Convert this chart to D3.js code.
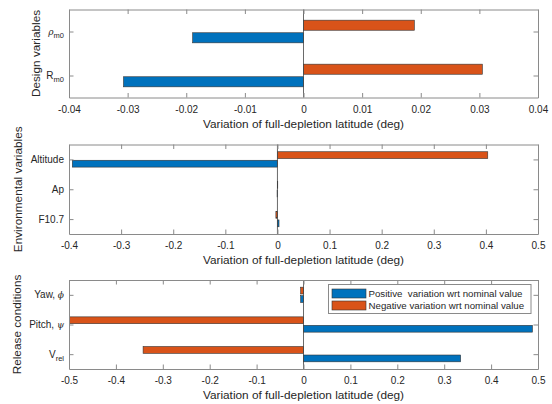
<!DOCTYPE html>
<html>
<head>
<script src="https://d3js.org/d3.v7.min.js"></script>
<style>
body { margin: 0; background: #fff; }
svg { display: block; font-family: "Liberation Sans", Arial, sans-serif; }
</style>
</head>
<body>
<div id="root"></div>
<script>
// categories listed top to bottom; "_" starts a subscript
let design_labels = ['ρ_m0', 'R_m0'];
let design_pos = [-0.0189, -0.0307];
let design_neg = [0.0189, 0.0305];
let design_ticks = [-0.04, -0.03, -0.02, -0.01, 0, 0.01, 0.02, 0.03, 0.04];

let env_labels = ['Altitude', 'Ap', 'F10.7'];
let env_pos = [-0.3936, -0.0006, 0.003];
let env_neg = [0.4036, 0.0006, -0.003];
let env_ticks = [-0.4, -0.3, -0.2, -0.1, 0, 0.1, 0.2, 0.3, 0.4, 0.5];

let rel_labels = ['Yaw, ϕ', 'Pitch, ψ', 'V_rel'];
let rel_pos = [-0.006, 0.488, 0.335];
let rel_neg = [-0.006, -0.5, -0.342];
let rel_ticks = [-0.5, -0.4, -0.3, -0.2, -0.1, 0, 0.1, 0.2, 0.3, 0.4, 0.5];

let legend_labels = ['Positive  variation wrt nominal value', 'Negative variation wrt nominal value'];

let blue = '#0072bd';
let orange = '#d95319';
let box_color = '#8a8a8a';
let text_color = '#262626';

let width = 552, height = 404;
let left = 69, right = 538;

let svg = d3.select('#root').append('svg')
    .attr('width', width)
    .attr('height', height);

let write_label = (text, s) => {
    let [main, sub] = s.split('_');
    main.split(/([α-ωϕ])/).filter(t => t.length).forEach(t => {
        let span = text.append('tspan').text(t);
        if (/[α-ωϕ]/.test(t)) span.attr('font-style', 'italic').attr('font-family', 'DejaVu Serif').attr('font-size', 9);
    });
    if (sub) text.append('tspan').attr('dy', 3).attr('font-size', 7.5).text(sub);
};

let render_panel = (p, i) => {
    let x = d3.scaleLinear().domain([p.ticks[0], p.ticks[p.ticks.length - 1]]).range([left, right]);
    let y = d3.scaleLinear().domain([-0.5, p.labels.length - 0.5]).range([p.top, p.bottom]);
    let g = svg.append('g');

    g.append('defs').append('clipPath').attr('id', `clip-${i}`)
        .append('rect').attr('x', left).attr('y', p.top)
        .attr('width', right - left).attr('height', p.bottom - p.top);

    let slot = 0.143, bw = 0.229;
    let series = [
        { values: p.neg, color: orange, offset: -slot },
        { values: p.pos, color: blue, offset: slot }
    ];
    let bars = g.append('g').attr('clip-path', `url(#clip-${i})`);
    series.forEach(s => {
        bars.append('g')
            .selectAll('rect')
            .data(s.values)
            .join('rect')
            .attr('x', d => x(Math.min(0, d)))
            .attr('width', d => Math.abs(x(d) - x(0)))
            .attr('y', (d, k) => y(k + s.offset - bw / 2))
            .attr('height', y(bw) - y(0))
            .attr('fill', s.color)
            .attr('stroke', '#333')
            .attr('stroke-width', 0.6);
    });

    // bar baseline
    g.append('line')
        .attr('x1', x(0)).attr('x2', x(0))
        .attr('y1', p.top).attr('y2', p.bottom)
        .attr('stroke', '#444').attr('stroke-width', 0.8);

    let fmt = d => String(d);
    let tick_len = 4.5;
    let ax_bottom = g.append('g')
        .attr('transform', `translate(0, ${p.bottom})`)
        .call(d3.axisBottom(x).tickValues(p.ticks).tickFormat(fmt).tickSize(-tick_len).tickSizeOuter(0).tickPadding(8));
    let ax_top = g.append('g')
        .attr('transform', `translate(0, ${p.top})`)
        .call(d3.axisTop(x).tickValues(p.ticks).tickFormat('').tickSize(-tick_len).tickSizeOuter(0));
    let ax_left = g.append('g')
        .attr('transform', `translate(${left}, 0)`)
        .call(d3.axisLeft(y).tickValues(d3.range(p.labels.length)).tickFormat('').tickSize(-tick_len).tickSizeOuter(0));
    let ax_right = g.append('g')
        .attr('transform', `translate(${right}, 0)`)
        .call(d3.axisRight(y).tickValues(d3.range(p.labels.length)).tickFormat('').tickSize(-tick_len).tickSizeOuter(0));
    [ax_bottom, ax_top, ax_left, ax_right].forEach(a => {
        a.selectAll('path, line').attr('stroke', box_color);
        a.selectAll('text').attr('fill', text_color).attr('font-size', 10).attr('font-family', null);
    });

    // category labels
    g.append('g').selectAll('text')
        .data(p.labels)
        .join('text')
        .attr('x', left - 5)
        .attr('y', (d, k) => y(k))
        .attr('dy', '0.35em')
        .attr('text-anchor', 'end')
        .attr('font-size', 10)
        .attr('fill', text_color)
        .each(function (d) { write_label(d3.select(this), d); });

    g.append('text')
        .attr('x', (left + right) / 2)
        .attr('y', p.bottom + 30)
        .attr('text-anchor', 'middle')
        .attr('font-size', 11.8)
        .attr('fill', text_color)
        .text('Variation of full-depletion latitude (deg)');

    g.append('text')
        .attr('transform', `translate(${p.title_x}, ${(p.top + p.bottom) / 2}) rotate(-90)`)
        .attr('text-anchor', 'middle')
        .attr('font-size', 11.8)
        .attr('fill', text_color)
        .text(p.title);
};

let panels = [
    { title: 'Design variables', labels: design_labels, pos: design_pos, neg: design_neg, ticks: design_ticks, top: 9.5, bottom: 97.5, title_x: 39.5 },
    { title: 'Environmental variables', labels: env_labels, pos: env_pos, neg: env_neg, ticks: env_ticks, top: 144.5, bottom: 234, title_x: 22 },
    { title: 'Release conditions', labels: rel_labels, pos: rel_pos, neg: rel_neg, ticks: rel_ticks, top: 280, bottom: 369, title_x: 21 }
];
panels.forEach(render_panel);

// legend in the bottom panel
let lg = svg.append('g').attr('transform', 'translate(328.5, 284.5)');
lg.append('rect')
    .attr('width', 202.5).attr('height', 29)
    .attr('fill', '#fff').attr('stroke', box_color);
lg.selectAll('g.item')
    .data(legend_labels)
    .join('g')
    .attr('class', 'item')
    .attr('transform', (d, k) => `translate(3.5, ${4.5 + k * 12})`)
    .each(function (d, k) {
        let item = d3.select(this);
        item.append('rect')
            .attr('width', 34).attr('height', 9)
            .attr('fill', k === 0 ? blue : orange)
            .attr('stroke', '#333').attr('stroke-width', 0.6);
        item.append('text')
            .attr('x', 36.5).attr('y', 8)
            .attr('font-size', 9.7)
            .attr('fill', text_color)
            .style('white-space', 'pre')
            .text(d);
    });
</script>
</body>
</html>
